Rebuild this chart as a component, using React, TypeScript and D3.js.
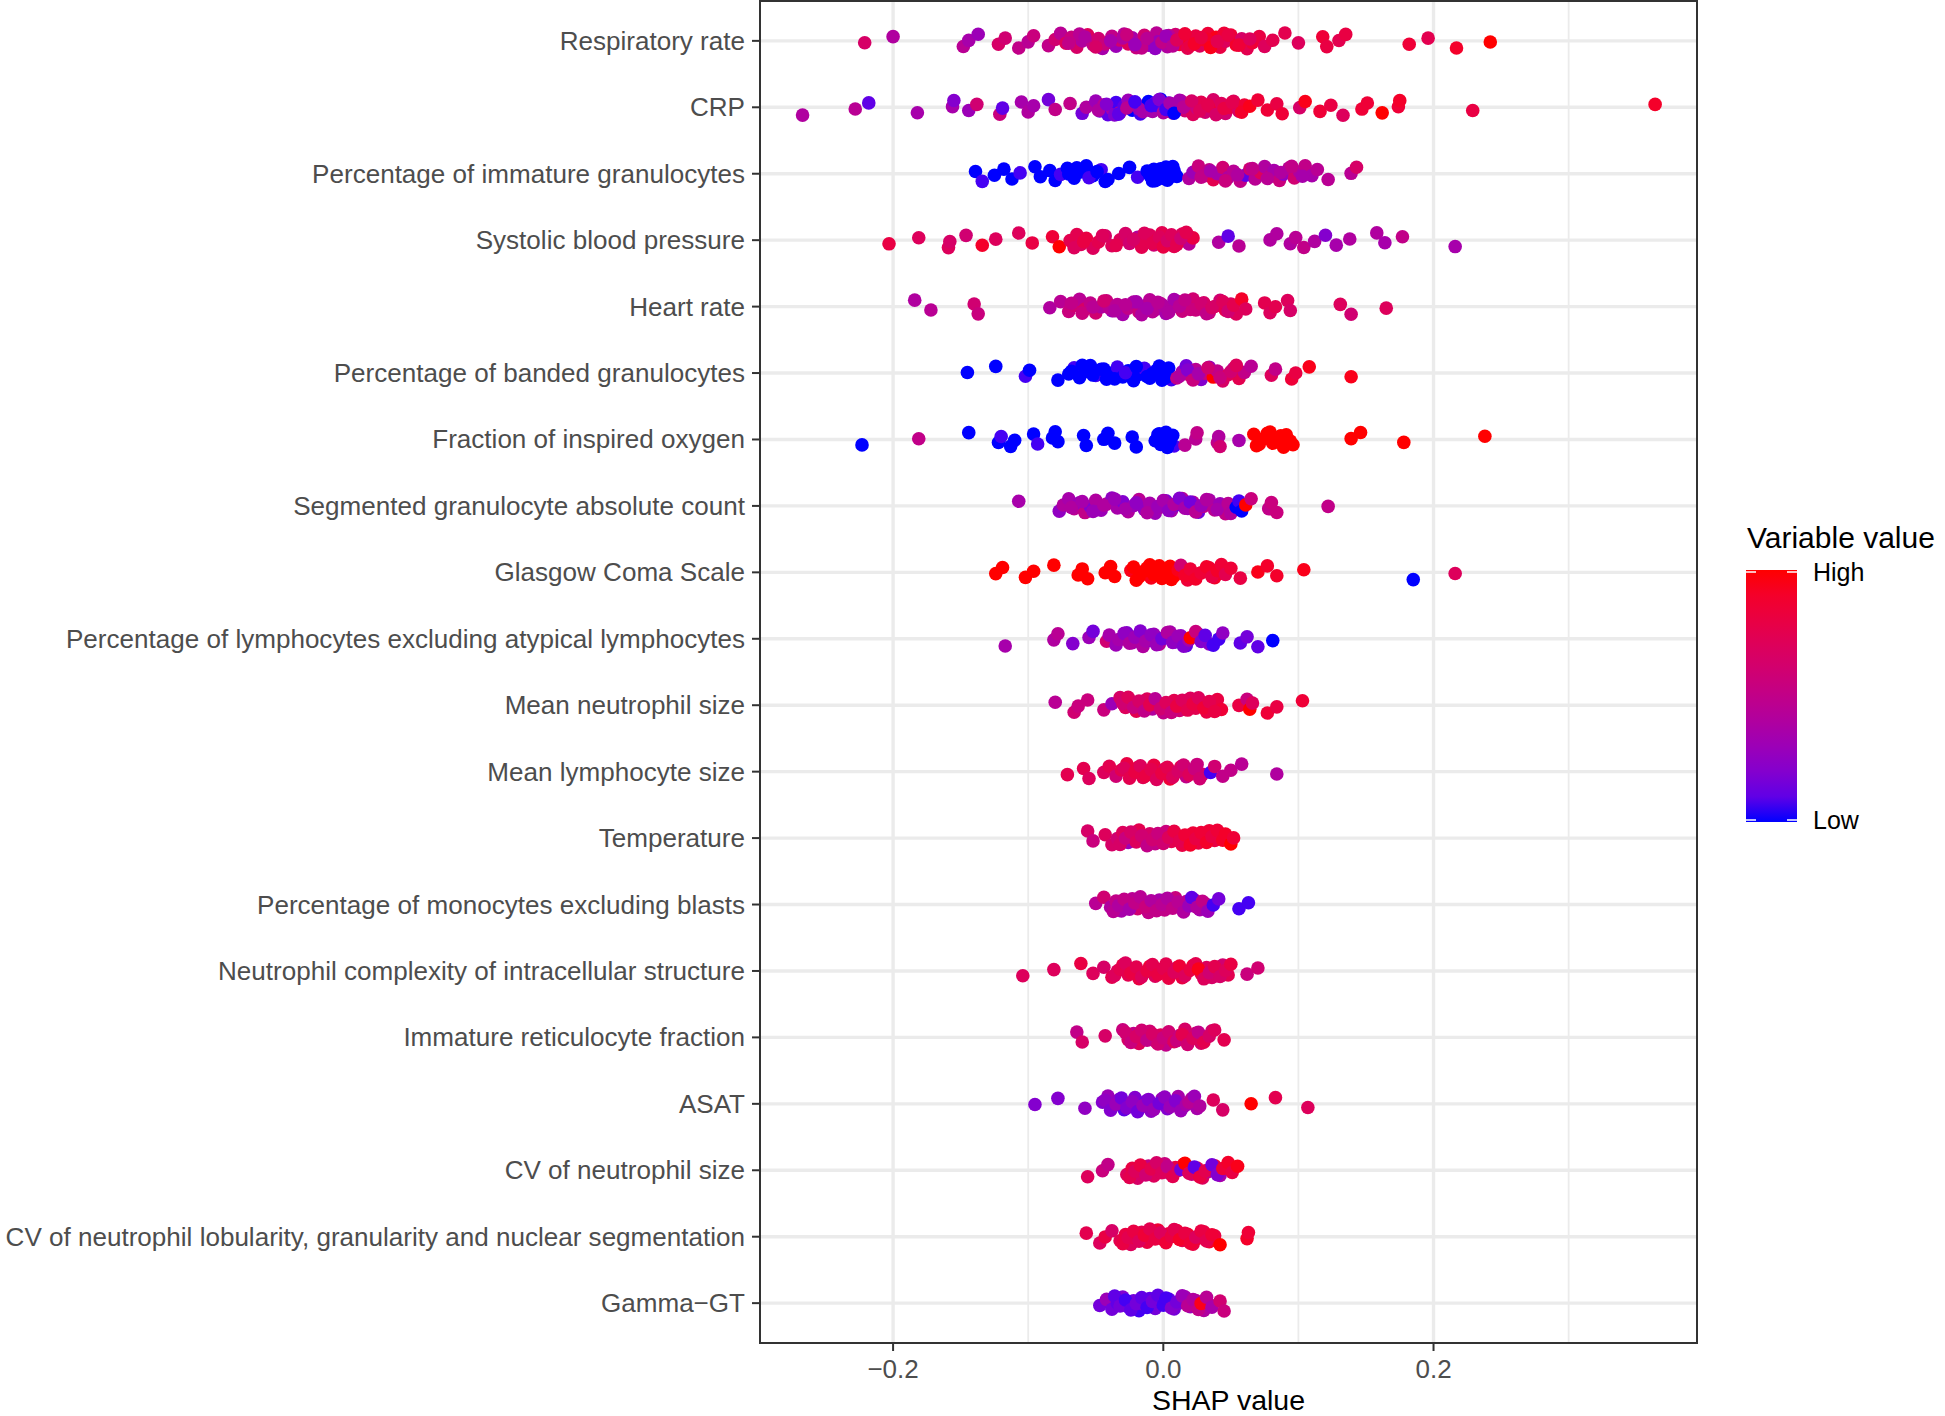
import React, { useEffect } from 'react';
import * as d3 from 'd3';

const features: string[] = [
  'Respiratory rate',
  'CRP',
  'Percentage of immature granulocytes',
  'Systolic blood pressure',
  'Heart rate',
  'Percentage of banded granulocytes',
  'Fraction of inspired oxygen',
  'Segmented granulocyte absolute count',
  'Glasgow Coma Scale',
  'Percentage of lymphocytes excluding atypical lymphocytes',
  'Mean neutrophil size',
  'Mean lymphocyte size',
  'Temperature',
  'Percentage of monocytes excluding blasts',
  'Neutrophil complexity of intracellular structure',
  'Immature reticulocyte fraction',
  'ASAT',
  'CV of neutrophil size',
  'CV of neutrophil lobularity, granularity and nuclear segmentation',
  'Gamma\u2212GT',
];

const xMajorTicks: number[] = [-0.2, 0.0, 0.2];
const xMinorTicks: number[] = [-0.1, 0.1, 0.3];
const xTickLabels: string[] = ['\u22120.2', '0.0', '0.2'];
const legendLabels: string[] = ['High', 'Low'];

// [SHAP value, scaled variable value (0 = low, 1 = high)]
type P = [number, number];

const respiratoryRate: P[] = [
  [-0.221,.65],[-0.200,.4],[-0.148,.45],[-0.144,.35],[-0.137,.3],[-0.122,.65],[-0.117,.6],[-0.107,.5],[-0.100,.45],[-0.096,.55],
  [-0.085,.5],[-0.080,.6],[-0.076,.45],[-0.072,.7],[-0.068,.55],[-0.064,.65],[-0.060,.4],[-0.056,.7],[-0.052,.5],[-0.048,.6],
  [-0.045,.35],[-0.041,.65],[-0.038,.5],[-0.035,.3],[-0.032,.6],[-0.029,.45],[-0.026,.7],[-0.023,.35],[-0.020,.55],[-0.017,.4],
  [-0.014,.6],[-0.011,.3],[-0.008,.5],[-0.005,.45],[-0.002,.35],[0.001,.55],[0.003,.4],[0.006,.3],[0.009,.6],[0.012,.85],
  [0.015,.9],[0.018,.75],[0.021,.95],[0.024,.8],[0.027,.7],[0.030,.9],[0.033,.85],[0.036,.75],[0.039,.95],[0.042,.8],
  [0.046,.7],[0.050,.85],[0.054,.9],[0.058,.65],[0.062,.75],[0.066,.85],[0.071,.8],[0.075,.7],[0.081,.75],
  [-0.062,.45],[-0.043,.55],[-0.030,.4],[-0.016,.5],[-0.004,.3],[0.004,.45],[0.020,.8],[0.032,.9],[0.045,.85],
  [-0.070,.5],[-0.058,.4],[-0.050,.65],[-0.039,.35],[-0.027,.55],[-0.021,.3],[-0.012,.45],[-0.006,.25],[-0.001,.5],[0.002,.3],
  [0.007,.45],[0.010,.7],[0.016,.85],[0.023,.9],[0.028,.8],[0.035,.95],[0.040,.75],[0.048,.8],[0.056,.85],[0.064,.7],
  [0.090,.75],[0.100,.7],[0.118,.85],[0.121,.8],[0.130,.75],[0.135,.8],[0.182,.85],[0.196,.75],[0.217,.9],[0.242,1],
];

const crp: P[] = [
  [-0.267,.4],[-0.228,.45],[-0.218,.1],[-0.182,.35],[-0.156,.35],[-0.155,.2],[-0.144,.3],[-0.138,.6],[-0.121,.55],[-0.119,.1],
  [-0.105,.35],[-0.100,.4],[-0.096,.35],[-0.085,.15],[-0.080,.5],[-0.069,.5],[-0.060,.15],[-0.057,.4],
  [-0.050,.3],[-0.047,.15],[-0.044,.45],[-0.041,.1],[-0.038,.35],[-0.035,.05],[-0.032,.5],[-0.029,.1],[-0.026,.3],[-0.023,0],
  [-0.020,.4],[-0.017,.05],[-0.014,.25],[-0.011,0],[-0.008,.35],[-0.005,.05],[-0.002,0],[0.001,.3],[0.004,.1],[0.007,.45],
  [0.010,.2],[0.013,.5],[0.016,.6],[0.019,.4],[0.022,.7],[0.025,.55],[0.028,.75],[0.031,.6],[0.034,.8],[0.037,.65],
  [0.040,.85],[0.043,.7],[0.046,.6],[0.049,.8],[0.052,.7],[0.056,.65],[0.060,.85],
  [-0.036,.2],[-0.018,.3],[-0.006,.1],[0.000,.4],[0.003,0],[0.012,.35],
  [-0.048,.4],[-0.042,.2],[-0.033,.1],[-0.027,.45],[-0.021,.05],[-0.015,.35],[-0.009,.05],[-0.003,.2],[0.002,.05],[0.005,.35],
  [0.008,0],[0.015,.45],[0.021,.65],[0.027,.7],[0.033,.75],[0.039,.65],[0.045,.8],[0.051,.75],[0.058,.9],
  [0.064,.95],[0.070,.85],[0.077,.85],[0.084,.8],[0.088,.85],[0.101,.65],[0.105,.95],[0.116,.85],[0.124,.8],[0.133,.7],
  [0.147,.85],[0.151,.85],[0.162,1],[0.174,.85],[0.175,.9],[0.229,.8],[0.364,.9],
];

const immatureGranulocytes: P[] = [
  [-0.139,0],[-0.134,.05],[-0.125,0],[-0.118,0],[-0.112,0],[-0.106,.05],[-0.095,0],[-0.091,0],[-0.084,0],[-0.080,0],
  [-0.076,.05],[-0.071,0],[-0.066,0],[-0.061,0],[-0.057,0],[-0.052,0],[-0.046,.05],[-0.041,0],[-0.033,0],[-0.025,0],
  [-0.019,.05],[-0.012,0],[-0.008,0],[-0.005,0],[-0.002,0],[0.001,0],[0.004,0],[0.007,0],[0.010,0],[-0.003,0],[0.003,0],
  [-0.070,0],[-0.064,0],[-0.055,.05],[-0.049,0],[-0.043,0],[-0.010,0],[-0.007,0],[-0.004,0],[-0.001,0],[0.002,0],
  [0.005,0],[0.008,0],[-0.006,0],[0,0],[0.006,0],
  [0.019,.4],[0.022,.3],[0.026,.55],[0.030,.45],[0.034,.5],[0.037,.75],[0.040,.35],[0.044,.6],[0.048,.4],[0.052,.45],
  [0.057,.5],[0.061,.1],[0.064,.6],[0.068,.45],[0.072,.7],[0.075,.4],[0.079,.5],[0.082,.35],[0.086,.55],[0.089,.25],
  [0.093,.45],[0.097,.6],[0.101,.4],[0.105,.5],[0.110,.35],[0.114,.45],[0.122,.45],[0.139,.45],[0.143,.65],
  [0.028,.5],[0.035,.35],[0.046,.55],[0.055,.4],[0.066,.5],[0.077,.45],[0.087,.4],[0.095,.5],[0.103,.35],
];

const systolicBP: P[] = [
  [-0.203,.8],[-0.181,.7],[-0.159,.7],[-0.158,.65],[-0.146,.6],[-0.134,.9],[-0.124,.7],[-0.107,.7],[-0.097,.8],[-0.082,.85],
  [-0.077,1],[-0.069,.75],[-0.064,.75],[-0.061,.7],[-0.057,.8],[-0.052,.7],[-0.048,.75],[-0.043,.65],[-0.038,.7],[-0.032,.7],
  [-0.028,.65],[-0.025,.6],[-0.019,.4],[-0.016,.75],[-0.013,.75],[-0.010,.7],[-0.007,.6],[-0.004,.8],[-0.001,.75],[0.002,.7],
  [0.005,.85],[0.008,.75],[0.011,.5],[0.014,.7],[0.019,.45],[0.022,.8],
  [-0.066,.7],[-0.059,.8],[-0.045,.7],[-0.035,.75],[-0.022,.65],[-0.014,.7],[-0.008,.75],[-0.003,.7],[0.000,.8],[0.003,.65],
  [0.006,.7],[0.010,.75],[0.013,.6],[0.017,.75],
  [0.041,.4],[0.048,.1],[0.056,.45],[0.079,.4],
  [0.084,.4],[0.094,.4],[0.098,.45],[0.104,.5],[0.112,.4],[0.120,.2],[0.128,.35],[0.138,.4],[0.158,.4],[0.164,.35],
  [0.177,.5],[0.216,.35],
];

const heartRate: P[] = [
  [-0.184,.4],[-0.172,.45],[-0.140,.6],[-0.137,.55],[-0.084,.4],[-0.076,.45],
  [-0.070,.55],[-0.066,.6],[-0.062,.45],[-0.058,.65],[-0.054,.5],[-0.050,.6],[-0.046,.4],[-0.042,.55],[-0.038,.3],[-0.034,.45],
  [-0.030,.35],[-0.026,.5],[-0.022,.4],[-0.018,.55],[-0.014,.35],[-0.010,.45],[-0.006,.4],[-0.002,.5],[0.002,.35],[0.006,.45],
  [0.010,.4],[0.014,.55],[0.018,.5],[0.022,.6],[0.026,.45],[0.030,.65],[0.034,.55],[0.038,.7],[0.042,.6],[0.046,.75],
  [0.050,.65],[0.054,.7],[-0.040,.45],[-0.020,.35],[-0.008,.45],[0.000,.4],[0.008,.35],[0.020,.55],
  [-0.068,.5],[-0.060,.55],[-0.052,.45],[-0.044,.6],[-0.036,.4],[-0.028,.45],[-0.016,.4],[-0.012,.35],[-0.004,.45],[0.004,.4],
  [0.012,.45],[0.016,.5],[0.024,.55],[0.028,.6],[0.032,.5],[0.036,.65],[0.044,.7],[0.048,.6],[0.052,.75],
  [0.058,.9],[0.061,.7],[0.075,.75],[0.079,.7],[0.083,.75],[0.092,.7],[0.094,.65],[0.131,.7],[0.139,.6],[0.165,.7],
];

const bandedGranulocytes: P[] = [
  [-0.145,0],[-0.124,0],[-0.102,.05],[-0.099,0],[-0.078,0],
  [-0.070,0],[-0.066,.05],[-0.062,0],[-0.058,0],[-0.054,0],[-0.050,.05],[-0.046,0],[-0.042,0],[-0.038,0],[-0.034,.05],
  [-0.030,0],[-0.026,0],[-0.022,0],[-0.018,0],[-0.014,.05],[-0.010,0],[-0.006,0],[-0.003,0],[0,0],[0.003,0],[0.006,.05],
  [-0.008,0],[-0.002,0],[0.002,0],
  [-0.068,0],[-0.060,0],[-0.052,0],[-0.044,0],[-0.036,0],[-0.028,.05],[-0.020,0],[-0.012,0],[-0.005,0],[-0.001,0],
  [0.001,0],[0.004,0],
  [0.010,.5],[0.014,.35],[0.017,.15],[0.020,.6],[0.024,.45],[0.028,.2],[0.031,.55],[0.034,.3],[0.037,1],[0.040,.5],
  [0.044,.65],[0.048,.7],[0.052,.45],[0.056,.75],[0.060,.5],[0.065,.45],
  [0.012,.4],[0.018,.2],[0.022,.55],[0.026,.35],[0.033,.6],[0.042,.55],[0.050,.6],[0.054,.7],
  [0.080,.7],[0.083,.5],[0.095,.85],[0.098,.8],[0.108,.95],[0.139,.95],
];

const inspiredOxygen: P[] = [
  [-0.223,0],[-0.181,.5],[-0.144,0],[-0.122,0],[-0.120,.05],[-0.113,0],[-0.110,0],[-0.096,0],[-0.093,.05],[-0.082,0],
  [-0.080,0],[-0.078,0],[-0.059,0],[-0.057,0],[-0.044,0],[-0.041,0],[-0.036,0],[-0.023,0],[-0.020,0],[-0.006,0],
  [-0.004,0],[-0.002,0],[0,0],[0.002,0],[0.004,0],[0.006,0],[0.008,.05],
  [-0.005,0],[-0.003,0],[-0.001,0],[0.001,0],[0.003,0],[0.005,0],[0.007,0],
  [0.016,.45],[0.024,.45],[0.025,.5],
  [0.040,.5],[0.041,.4],[0.042,.6],[0.056,.35],[0.067,1],[0.071,1],[0.075,1],[0.079,1],[0.083,1],[0.087,1],
  [0.069,1],[0.073,1],[0.077,1],[0.081,1],[0.085,1],[0.089,1],[0.094,1],
  [0.091,1],[0.096,1],[0.139,1],[0.146,1],[0.178,1],[0.238,1],
];

const segmentedGranulocytes: P[] = [
  [-0.107,.35],[-0.077,.25],[-0.074,.4],
  [-0.070,.35],[-0.066,.45],[-0.062,.3],[-0.058,.5],[-0.054,.2],[-0.050,.4],[-0.046,.3],[-0.042,.45],[-0.038,.25],[-0.034,.35],
  [-0.030,.2],[-0.026,.4],[-0.022,.3],[-0.018,.45],[-0.014,.25],[-0.010,.35],[-0.006,.3],[-0.002,.4],[0.002,.2],[0.006,.35],
  [0.010,.1],[0.014,.45],[0.018,.3],[0.022,.4],[0.026,.15],[0.030,.5],[0.034,.35],[0.038,.45],[0.042,.3],[0.046,.5],
  [-0.068,.4],[-0.060,.35],[-0.052,.3],[-0.044,.4],[-0.036,.3],[-0.028,.35],[-0.020,.25],[-0.012,.4],[-0.004,.3],[0.000,.35],
  [0.004,.25],[0.008,.4],[0.012,.2],[0.016,.35],[0.020,.15],[0.024,.45],[0.028,.3],[0.032,.4],[0.040,.35],[0.048,.45],
  [0.050,.4],[0.054,0],[0.056,.05],[0.058,0],[0.061,1],[0.065,.55],[0.078,.5],[0.080,.55],[0.084,.55],[0.122,.5],
];

const glasgowComaScale: P[] = [
  [-0.124,1],[-0.119,1],[-0.102,1],[-0.096,1],[-0.081,1],[-0.063,1],[-0.060,1],[-0.056,1],[-0.043,1],[-0.039,1],
  [-0.036,1],[-0.024,.95],[-0.020,1],[-0.016,1],[-0.012,1],[-0.009,.95],[-0.006,1],[-0.003,1],[0,1],[0.003,1],
  [0.006,1],[0.009,1],
  [-0.022,1],[-0.018,1],[-0.014,1],[-0.010,1],[-0.007,1],[-0.004,1],[-0.001,1],[0.002,1],[0.005,1],[0.008,1],
  [0.011,.95],[0.018,.85],[0.026,.9],[0.034,.85],[0.038,.9],[0.045,.8],
  [0.013,.6],[0.016,.9],[0.020,.85],[0.024,.9],[0.028,.85],[0.032,.9],[0.036,.8],[0.040,.9],
  [0.043,.85],[0.046,.75],[0.050,.85],[0.057,.8],[0.070,.95],[0.077,.9],[0.084,.9],[0.104,.95],[0.185,0],[0.216,.7],
];

const lymphocytes: P[] = [
  [-0.117,.35],[-0.081,.4],[-0.078,.45],[-0.067,.2],[-0.055,.3],[-0.052,.15],[-0.042,.6],[-0.040,.35],
  [-0.035,.3],[-0.031,.45],[-0.027,.2],[-0.023,.35],[-0.019,.25],[-0.015,.4],[-0.011,.15],[-0.007,.3],[-0.003,.45],[0.001,.2],
  [0.005,.35],[0.009,.15],[0.013,.25],[0.017,.1],
  [-0.033,.35],[-0.029,.25],[-0.025,.4],[-0.021,.3],[-0.017,.2],[-0.013,.35],[-0.009,.25],[-0.005,.3],[-0.001,.15],
  [0.003,.4],[0.007,.25],[0.011,.3],[0.015,.2],[0.019,.35],[0.026,.15],[0.034,.25],
  [0.020,1],[0.024,.55],[0.028,.2],[0.031,.1],[0.037,.05],[0.041,.05],
  [0.044,.25],[0.057,.1],[0.062,.15],[0.070,.1],[0.081,0],
];

const meanNeutrophilSize: P[] = [
  [-0.080,.45],[-0.066,.6],[-0.063,.55],[-0.056,.55],[-0.044,.55],[-0.038,.3],
  [-0.032,.65],[-0.028,.7],[-0.024,.6],[-0.020,.75],[-0.016,.45],[-0.012,.7],[-0.008,.4],[-0.004,.65],[0,.5],[0.004,.7],
  [0.008,.75],[0.012,.6],[0.016,.8],[0.020,.7],[0.024,.75],[0.028,.85],[0.032,.8],[0.036,.85],[0.040,.8],[0.043,.85],
  [-0.030,.6],[-0.026,.7],[-0.022,.55],[-0.018,.65],[-0.014,.5],[-0.010,.75],[-0.006,.45],[-0.002,.6],[0.002,.7],
  [0.006,.55],[0.010,.8],[0.014,.7],[0.018,.75],[0.022,.8],[0.026,.7],[0.030,.85],[0.034,.75],[0.038,.8],
  [0.056,.8],[0.062,.55],[0.064,1],[0.066,.7],[0.077,.85],[0.084,.8],[0.103,.85],
];

const meanLymphocyteSize: P[] = [
  [-0.071,.75],[-0.059,.75],[-0.055,.7],[-0.044,.7],[-0.040,.75],[-0.035,.6],
  [-0.031,.75],[-0.027,.8],[-0.023,.7],[-0.019,.8],[-0.015,.75],[-0.011,.55],[-0.007,.8],[-0.003,.75],[0.001,.7],[0.005,.85],
  [0.009,.6],[0.013,.75],[0.017,.5],[0.021,.65],[0.025,.55],[0.029,.6],
  [-0.029,.7],[-0.025,.75],[-0.021,.8],[-0.017,.7],[-0.013,.8],[-0.009,.75],[-0.005,.7],[-0.001,.8],[0.003,.75],
  [0.007,.7],[0.011,.65],[0.015,.6],[0.019,.7],[0.023,.55],[0.027,.6],
  [0.035,.05],[0.038,.6],[0.044,.5],[0.050,.5],
  [0.058,.45],[0.084,.4],
];

const temperature: P[] = [
  [-0.056,.65],[-0.052,.55],[-0.043,.7],[-0.038,.65],
  [-0.034,.6],[-0.030,.7],[-0.026,.3],[-0.022,.6],[-0.018,.75],[-0.014,.45],[-0.010,.65],[-0.006,.5],[-0.002,.7],[0.002,.55],
  [0.006,.75],[0.010,.85],[0.014,.8],[0.018,.9],[0.022,.85],[0.026,.8],[0.030,.9],[0.034,.85],[0.038,.8],[0.042,.95],
  [-0.032,.65],[-0.028,.55],[-0.024,.65],[-0.020,.7],[-0.016,.6],[-0.012,.5],[-0.008,.6],[-0.004,.55],[0.000,.6],[0.004,.7],
  [0.008,.8],[0.012,.75],[0.016,.85],[0.020,.9],[0.024,.8],[0.028,.85],[0.032,.9],[0.036,.8],[0.040,.85],[0.044,.9],
  [0.046,.9],[0.050,1],[0.052,.85],
];

const monocytes: P[] = [
  [-0.050,.45],[-0.044,.6],
  [-0.039,.4],[-0.035,.5],[-0.031,.35],[-0.027,.55],[-0.023,.45],[-0.019,.6],[-0.015,.4],[-0.011,.5],[-0.007,.45],[-0.003,.35],
  [0.001,.5],[0.005,.4],[0.009,.55],[0.013,.35],[0.017,.45],
  [-0.037,.45],[-0.033,.4],[-0.029,.5],[-0.025,.35],[-0.021,.5],[-0.017,.45],[-0.013,.55],[-0.009,.4],[-0.005,.5],
  [-0.001,.45],[0.003,.4],[0.007,.5],[0.011,.45],[0.015,.4],[0.019,.3],[0.023,.45],[0.027,.35],[0.031,.4],
  [0.021,.1],[0.025,.4],[0.029,.5],[0.033,.3],[0.037,.05],
  [0.041,.15],[0.056,.05],[0.063,.05],
];

const neutrophilComplexity: P[] = [
  [-0.104,.7],[-0.081,.7],[-0.061,.8],[-0.052,.7],[-0.044,.65],
  [-0.038,.75],[-0.034,.7],[-0.030,.8],[-0.026,.75],[-0.022,.65],[-0.018,.8],[-0.014,.75],[-0.010,.85],[-0.006,.7],[-0.002,.8],
  [0.002,.75],[0.006,.85],[0.010,.7],[0.014,.8],[0.018,.75],[0.022,.85],
  [-0.036,.7],[-0.032,.75],[-0.028,.7],[-0.024,.8],[-0.020,.75],[-0.016,.7],[-0.012,.8],[-0.008,.75],[-0.004,.8],[0.000,.75],
  [0.004,.8],[0.008,.7],[0.012,.85],[0.016,.7],[0.020,.8],[0.024,.75],[0.028,.8],[0.032,.7],[0.036,.65],[0.040,.7],
  [0.044,.6],[0.048,.75],
  [0.026,.95],[0.030,.7],[0.034,.6],[0.038,.75],
  [0.042,.65],[0.046,.7],[0.050,.8],[0.062,.55],[0.070,.6],
];

const reticulocyteFraction: P[] = [
  [-0.064,.5],[-0.060,.65],[-0.043,.65],
  [-0.030,.55],[-0.026,.65],[-0.022,.5],[-0.018,.7],[-0.014,.45],[-0.010,.6],[-0.006,.55],[-0.002,.7],[0.002,.5],[0.006,.65],
  [-0.028,.6],[-0.024,.55],[-0.020,.65],[-0.016,.6],[-0.012,.5],[-0.008,.65],[-0.004,.6],[0.000,.55],[0.004,.6],
  [0.008,.7],[0.012,.55],[0.016,.65],[0.020,.75],[0.024,.6],[0.028,.65],[0.032,.7],[0.036,.6],
  [0.010,.55],[0.014,.75],[0.018,.6],[0.022,.7],[0.026,.5],[0.030,.75],[0.034,.65],[0.038,.7],[0.045,.75],
];

const asat: P[] = [
  [-0.095,.2],[-0.078,.2],[-0.058,.25],
  [-0.045,.2],[-0.041,.3],[-0.037,.15],[-0.033,.25],[-0.029,.1],[-0.025,.3],[-0.021,.2],[-0.017,.35],[-0.013,.15],[-0.009,.25],
  [-0.005,.1],[-0.001,.3],[0.003,.2],[0.007,.15],[0.011,.35],[0.015,.25],
  [-0.043,.25],[-0.039,.2],[-0.035,.3],[-0.031,.15],[-0.027,.2],[-0.023,.25],[-0.019,.15],[-0.015,.3],[-0.011,.2],
  [-0.007,.3],[-0.003,.15],[0.001,.25],[0.005,.3],[0.009,.2],[0.013,.3],[0.017,.35],[0.021,.4],[0.025,.35],
  [0.019,.45],[0.023,.3],[0.027,.4],[0.037,.7],
  [0.044,.65],[0.065,1],[0.083,.75],[0.107,.7],
];

const cvNeutrophilSize: P[] = [
  [-0.056,.7],[-0.045,.55],[-0.041,.5],
  [-0.027,.7],[-0.023,.8],[-0.019,.65],[-0.015,.75],[-0.011,.5],[-0.007,.7],[-0.003,.6],[0.001,.55],[0.005,.45],[0.009,.8],
  [-0.025,.75],[-0.021,.7],[-0.017,.8],[-0.013,.6],[-0.009,.75],[-0.005,.65],[-0.001,.7],[0.003,.5],[0.007,.75],
  [0.011,.7],[0.015,.8],[0.021,.55],[0.025,.75],[0.029,.7],[0.033,.5],[0.038,.8],[0.042,.35],
  [0.013,.15],[0.016,1],[0.019,.7],[0.023,.1],[0.027,.8],[0.031,.75],[0.036,.15],[0.040,.2],[0.044,.85],[0.048,.9],
  [0.051,.8],[0.055,.95],
];

const cvLobularity: P[] = [
  [-0.057,.75],[-0.047,.7],[-0.043,.8],[-0.038,.65],
  [-0.032,.75],[-0.028,.8],[-0.024,.7],[-0.020,.85],[-0.016,.75],[-0.012,.8],[-0.008,.6],[-0.004,.85],[0,.8],[0.004,.85],
  [-0.030,.8],[-0.026,.75],[-0.022,.8],[-0.018,.7],[-0.014,.85],[-0.010,.75],[-0.006,.8],[-0.002,.7],[0.002,.85],
  [0.006,.8],[0.010,.85],[0.014,.75],[0.018,.9],[0.022,.8],[0.026,.85],[0.030,.8],[0.034,.9],[0.038,.8],
  [0.008,.75],[0.012,.9],[0.016,.8],[0.020,.85],[0.024,.7],[0.028,.8],[0.032,.75],[0.036,.85],[0.042,1],[0.062,.9],[0.063,.85],
];

const gammaGT: P[] = [
  [-0.047,.15],[-0.042,.3],
  [-0.038,.15],[-0.034,.1],[-0.030,.2],[-0.026,.1],[-0.022,.15],[-0.018,.05],[-0.014,.2],[-0.010,.1],[-0.006,.15],[-0.002,.1],
  [-0.036,.1],[-0.032,.15],[-0.028,.05],[-0.024,.1],[-0.020,.15],[-0.016,.1],[-0.012,.05],[-0.008,.15],[-0.004,.1],
  [0.000,.05],[0.004,.1],[0.008,.15],[0.012,.2],[0.016,.35],[0.020,.3],[0.024,.45],[0.030,.4],[0.034,.5],
  [0.002,.05],[0.006,.2],[0.010,.15],[0.014,.3],[0.018,.45],[0.022,.4],[0.026,.5],[0.028,.95],[0.032,.45],[0.036,.35],
  [0.042,.6],[0.045,.55],
];

const seriesByFeature: P[][] = [
  respiratoryRate, crp, immatureGranulocytes, systolicBP, heartRate, bandedGranulocytes, inspiredOxygen,
  segmentedGranulocytes, glasgowComaScale, lymphocytes, meanNeutrophilSize, meanLymphocyteSize, temperature,
  monocytes, neutrophilComplexity, reticulocyteFraction, asat, cvNeutrophilSize, cvLobularity, gammaGT,
];

const FONT = '"Liberation Sans", Arial, Helvetica, sans-serif';

export default function App() {
  useEffect(() => {
    document.body.style.margin = '0';
    document.body.style.overflow = 'hidden';
  }, []);

  const W = 1945, H = 1416;
  const pL = 760, pR = 1697, pT = 1, pB = 1343;
  const x = d3.scaleLinear().domain([-0.2985, 0.395]).range([pL, pR]);
  const y = d3.scalePoint<string>().domain(features).range([pT, pB]).padding(0.6);
  const color = d3.scaleLinear<string>().domain([0, 1]).range(['#0000FF', '#FF0000']).interpolate(d3.interpolateLab);
  const jitterAmp = 8;
  const r = 6.8;

  const gridColor = '#EBEBEB';
  const axisColor = '#333333';

  const barX = 1746, barW = 51, barTop = 570, barBot = 822;
  const legendScale = d3.scaleLinear().domain([1, 0]).range([barTop + 2, barBot - 2]);
  const gradStops = d3.range(0, 1.0001, 0.1);

  return (
    <svg width={W} height={H} style={{ position: 'absolute', left: 0, top: 0, background: '#fff' }}>
      <defs>
        <linearGradient id="cbar" x1="0" y1="1" x2="0" y2="0">
          {gradStops.map((t) => (
            <stop key={t} offset={t} stopColor={color(t)} />
          ))}
        </linearGradient>
        <clipPath id="panel">
          <rect x={pL} y={pT} width={pR - pL} height={pB - pT} />
        </clipPath>
      </defs>
      <rect x={0} y={0} width={W} height={H} fill="#fff" />
      {xMinorTicks.map((t) => (
        <line key={'mn' + t} x1={x(t)} x2={x(t)} y1={pT} y2={pB} stroke={gridColor} strokeWidth={1.8} />
      ))}
      {xMajorTicks.map((t) => (
        <line key={'mj' + t} x1={x(t)} x2={x(t)} y1={pT} y2={pB} stroke={gridColor} strokeWidth={3.4} />
      ))}
      {features.map((f) => (
        <line key={'hg' + f} x1={pL} x2={pR} y1={y(f)} y2={y(f)} stroke={gridColor} strokeWidth={3.4} />
      ))}
      <g clipPath="url(#panel)">
        {seriesByFeature.map((pts, fi) =>
          pts.map((p, i) => {
            const frac = ((i + 1) * 0.6180339887 + fi * 0.37) % 1;
            const dy = (frac - 0.5) * 2 * jitterAmp;
            return (
              <circle
                key={fi + '-' + i}
                cx={x(p[0])}
                cy={(y(features[fi]) as number) + dy}
                r={r}
                fill={color(p[1])}
              />
            );
          })
        )}
      </g>
      <rect x={pL} y={pT} width={pR - pL} height={pB - pT} fill="none" stroke={axisColor} strokeWidth={2} />
      {features.map((f) => (
        <g key={'yl' + f}>
          <line x1={pL - 8} x2={pL} y1={y(f)} y2={y(f)} stroke={axisColor} strokeWidth={2} />
          <text
            x={pL - 15}
            y={(y(f) as number) + 9}
            textAnchor="end"
            fontFamily={FONT}
            fontSize={26.05}
            fill="#4D4D4D"
          >
            {f}
          </text>
        </g>
      ))}
      {xMajorTicks.map((t, i) => (
        <g key={'xl' + t}>
          <line x1={x(t)} x2={x(t)} y1={pB} y2={pB + 8} stroke={axisColor} strokeWidth={2} />
          <text x={x(t)} y={1378} textAnchor="middle" fontFamily={FONT} fontSize={26} fill="#4D4D4D">
            {xTickLabels[i]}
          </text>
        </g>
      ))}
      <text x={(pL + pR) / 2} y={1409.5} textAnchor="middle" fontFamily={FONT} fontSize={28.5} fill="#000">
        SHAP value
      </text>
      <text x={1747} y={548} fontFamily={FONT} fontSize={30} fill="#000">
        Variable value
      </text>
      <rect x={barX} y={barTop} width={barW} height={barBot - barTop} fill="url(#cbar)" />
      {[1, 0].map((v) => (
        <g key={'lt' + v}>
          <line x1={barX} x2={barX + 10} y1={legendScale(v)} y2={legendScale(v)} stroke="#fff" strokeWidth={1.5} />
          <line x1={barX + barW - 10} x2={barX + barW} y1={legendScale(v)} y2={legendScale(v)} stroke="#fff" strokeWidth={1.5} />
        </g>
      ))}
      <text x={1813} y={legendScale(1) + 9} fontFamily={FONT} fontSize={25} fill="#000">
        {legendLabels[0]}
      </text>
      <text x={1813} y={legendScale(0) + 9} fontFamily={FONT} fontSize={25} fill="#000">
        {legendLabels[1]}
      </text>
    </svg>
  );
}
